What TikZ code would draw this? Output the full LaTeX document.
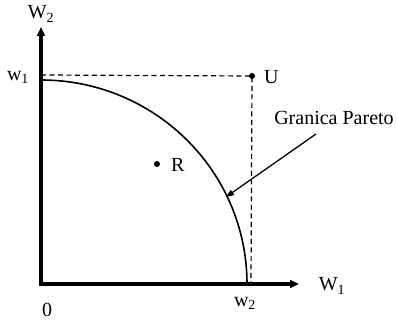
\documentclass[tikz,border=0pt]{standalone}
\usepackage{fontspec}
\setmainfont{Liberation Serif}
\usetikzlibrary{arrows.meta}
\begin{document}
\begin{tikzpicture}[x=1pt,y=-1pt,
  lbl/.style={inner sep=0pt,font=\fontsize{20}{23}\selectfont},
  axis/.style={line width=3.5pt,-{Triangle[length=9pt,width=8pt]}},
  dashline/.style={line width=1.2pt,dash pattern=on 5pt off 3.5pt},
  pt/.style={circle,fill=black,inner sep=0pt,minimum size=6pt}]
\useasboundingbox (0,0) rectangle (397,320);
\coordinate (O) at (41,284);
\coordinate (Ytop) at (41,27);
\coordinate (Xend) at (299,284);
\coordinate (A) at (41,80);
\coordinate (B) at (247,284);
\coordinate (Dl) at (41,75);
\coordinate (Db) at (251,284);
\node[pt] (U) at (252,76) {};
\node[pt] (R) at (157,164) {};
\draw[axis] ([xshift=-1.75pt]O) -- (Xend);
\draw[axis] ([yshift=1.75pt]O) -- (Ytop);
\draw[line width=1.6pt] (A) arc[start angle=90,end angle=0,x radius=206,y radius=-204];
\draw[dashline] (Dl) -- (U.center) -- (Db);
\node[lbl] (lW2) at (41,14) {W\textsubscript{2}};
\node[lbl] (lW1) at (332,286) {W\textsubscript{1}};
\node[lbl] (lw1) at (18,77) {w\textsubscript{1}};
\node[lbl] (lw2) at (245,303) {w\textsubscript{2}};
\node[lbl] (l0) at (47,310) {0};
\node[lbl,anchor=west] (lU) at (264,77) {U};
\node[lbl,anchor=west] (lR) at (171,165) {R};
\node[lbl] (lG) at (334,118) {Granica Pareto};
\coordinate (Gs) at (316,134);
\coordinate (Gt) at (226,197);
\draw[line width=1.3pt,-{Triangle[length=8pt,width=6pt]}] (Gs) -- (Gt);
\end{tikzpicture}
\end{document}
